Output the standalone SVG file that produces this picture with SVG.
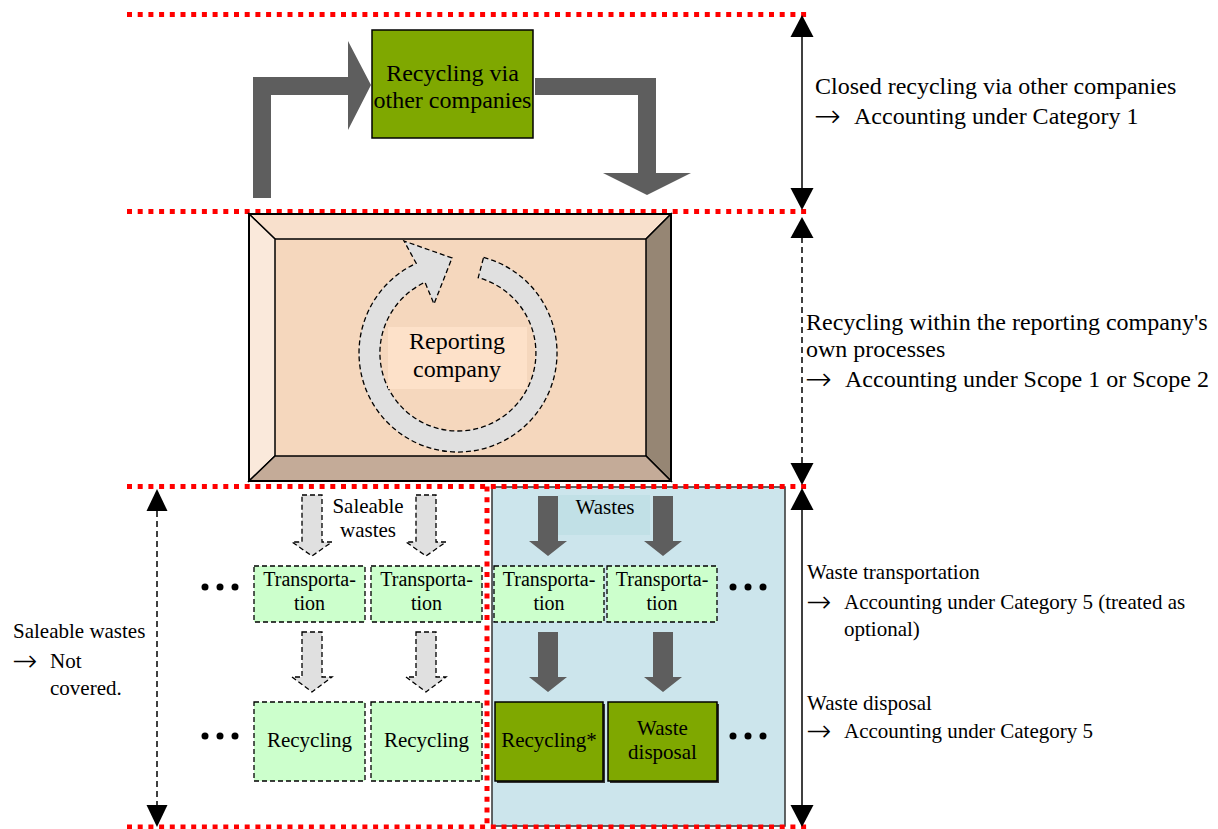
<svg xmlns="http://www.w3.org/2000/svg" width="1218" height="829" viewBox="0 0 1218 829">
  <style>
    text { font-family: "Liberation Serif", "Times New Roman", serif; fill: #000; }
    .t24 { font-size: 24px; }
    .t21 { font-size: 21px; }
    .t20 { font-size: 20px; }
    .mid { text-anchor: middle; }
    .arrowglyph { font-family: "DejaVu Sans", sans-serif; font-weight: 200; }
    .ag24 { font-size: 32px; }
    .ag21 { font-size: 30px; }
    .redline { stroke: #FF0000; stroke-width: 5; stroke-dasharray: 5 5.7; fill: none; }
    .darkarrow { fill: #5E5E5E; stroke: none; }
    .lightarrow { fill: #E0E0E0; stroke: #000; stroke-width: 1.3; stroke-dasharray: 5 3; }
    .lightbox { fill: #CCFFCC; stroke: #000; stroke-width: 1.3; stroke-dasharray: 5 3; }
    .olivebox { fill: #7FA800; stroke: #000; stroke-width: 1.5; }
    .dim { stroke: #000; stroke-width: 1.5; fill: none; }
    .dimdash { stroke: #000; stroke-width: 1.5; fill: none; stroke-dasharray: 6 4; }
    .head { fill: #000; }
    .bevel { stroke: #000; stroke-width: 1.5; }
  </style>

  <rect x="0" y="0" width="1218" height="829" fill="#FFFFFF"/>

  <!-- waste treatment area background -->
  <rect id="waste-area" x="492" y="487" width="293" height="339" fill="#CCE5EC" stroke="#333" stroke-width="1.5"/>

  <!-- section boundaries -->
  <g id="boundaries">
    <line class="redline" x1="127" y1="14.5" x2="810" y2="14.5"/>
    <line class="redline" x1="127" y1="211.5" x2="810" y2="211.5"/>
    <line class="redline" x1="127" y1="486.5" x2="810" y2="486.5"/>
    <line class="redline" x1="127" y1="827" x2="810" y2="827"/>
    <line class="redline" x1="487" y1="486.5" x2="487" y2="829"/>
  </g>

  <!-- connectors -->
  <g id="connectors">
    <!-- loop through other companies -->
    <path class="darkarrow" d="M253,198 L253,77 L348,77 L348,41 L371,85 L348,130 L348,95 L271,95 L271,198 Z"/>
    <path class="darkarrow" d="M535,78 L656,78 L656,173 L691,173 L647,195 L603,173 L638,173 L638,95 L535,95 Z"/>

    <!-- saleable waste flows -->
    <path class="lightarrow" d="M302,495 L322,495 L322,542 L332,542 L312,556 L292,542 L302,542 Z"/>
    <path class="lightarrow" d="M416,495 L436,495 L436,542 L446,542 L426,556 L406,542 L416,542 Z"/>
    <path class="lightarrow" d="M302,632 L322,632 L322,677 L332,677 L312,692 L292,677 L302,677 Z"/>
    <path class="lightarrow" d="M416,632 L436,632 L436,677 L446,677 L426,692 L406,677 L416,677 Z"/>

    <!-- waste flows -->
    <path class="darkarrow" d="M538,496 L558,496 L558,541 L567,541 L548,556 L529,541 L538,541 Z"/>
    <path class="darkarrow" d="M653,496 L673,496 L673,541 L682,541 L663,556 L644,541 L653,541 Z"/>
    <path class="darkarrow" d="M538,632 L558,632 L558,677 L567,677 L548,692 L529,677 L538,677 Z"/>
    <path class="darkarrow" d="M653,632 L673,632 L673,677 L682,677 L663,692 L644,677 L653,677 Z"/>

    <!-- scope dimension arrows -->
    <line class="dim" x1="802" y1="36" x2="802" y2="189"/>
    <polygon class="head" points="802,15 790.5,37 813.5,37"/>
    <polygon class="head" points="802,210 790.5,188 813.5,188"/>

    <line class="dimdash" x1="802" y1="237" x2="802" y2="464"/>
    <polygon class="head" points="802,217 790.5,238 813.5,238"/>
    <polygon class="head" points="802,485 790.5,463 813.5,463"/>

    <line class="dim" x1="802" y1="509" x2="802" y2="806"/>
    <polygon class="head" points="802,488 790.5,510 813.5,510"/>
    <polygon class="head" points="802,827 790.5,805 813.5,805"/>

    <line class="dimdash" x1="157" y1="511" x2="157" y2="806"/>
    <polygon class="head" points="157,489 146.5,511 167.5,511"/>
    <polygon class="head" points="157,827 146.5,805 167.5,805"/>
  </g>

  <!-- other companies -->
  <g id="node-other-companies">
    <rect class="olivebox" x="372" y="30" width="161" height="108"/>
    <text class="t24 mid" x="452.5" y="81">Recycling via</text>
    <text class="t24 mid" x="452.5" y="108">other companies</text>
  </g>

  <!-- reporting company -->
  <g id="node-reporting-company">
    <rect x="275" y="239" width="371" height="217" fill="#F5D7BD"/>
    <polygon class="bevel" points="249,214 671,214 646,239 275,239" fill="#F8E0CC"/>
    <polygon class="bevel" points="249,214 275,239 275,456 249,481" fill="#FAE9DB"/>
    <polygon class="bevel" points="671,214 671,481 646,456 646,239" fill="#968674"/>
    <polygon class="bevel" points="249,481 671,481 646,456 275,456" fill="#C4AB98"/>
    <rect x="249" y="214" width="422" height="267" fill="none" stroke="#000" stroke-width="2"/>
    <path class="lightarrow" d="M483.6,257.4 A99,99 0 1 1 416.2,263.3 L404,241 L452,258 L434,304 L425,282.3 A78,78 0 1 0 478.2,277.7 Z"/>
    <rect x="388" y="327" width="139" height="62" fill="#FDE1C9"/>
    <text class="t24 mid" x="457" y="349">Reporting</text>
    <text class="t24 mid" x="457" y="377">company</text>
  </g>

  <!-- saleable wastes chain -->
  <g id="label-saleable">
    <text class="t21 mid" x="368" y="513">Saleable</text>
    <text class="t21 mid" x="368" y="537">wastes</text>
  </g>
  <g id="node-transport-s1">
    <rect class="lightbox" x="254" y="566" width="111" height="56"/>
    <text class="t20 mid" x="309.5" y="586">Transporta-</text>
    <text class="t20 mid" x="309.5" y="610">tion</text>
  </g>
  <g id="node-transport-s2">
    <rect class="lightbox" x="371" y="566" width="111" height="56"/>
    <text class="t20 mid" x="426.5" y="586">Transporta-</text>
    <text class="t20 mid" x="426.5" y="610">tion</text>
  </g>
  <g id="node-recycling-s1">
    <rect class="lightbox" x="254" y="702" width="111" height="79"/>
    <text class="t21 mid" x="309.5" y="747">Recycling</text>
  </g>
  <g id="node-recycling-s2">
    <rect class="lightbox" x="371" y="702" width="111" height="79"/>
    <text class="t21 mid" x="426.5" y="747">Recycling</text>
  </g>

  <!-- wastes chain -->
  <g id="label-wastes">
    <rect x="558" y="495" width="92" height="40" fill="#C1E0E6"/>
    <text class="t21 mid" x="605" y="514">Wastes</text>
  </g>
  <g id="node-transport-w1">
    <rect class="lightbox" x="494" y="566" width="110" height="56"/>
    <text class="t20 mid" x="549" y="586">Transporta-</text>
    <text class="t20 mid" x="549" y="610">tion</text>
  </g>
  <g id="node-transport-w2">
    <rect class="lightbox" x="607" y="566" width="110" height="56"/>
    <text class="t20 mid" x="662" y="586">Transporta-</text>
    <text class="t20 mid" x="662" y="610">tion</text>
  </g>
  <g id="node-recycling-w">
    <rect x="497" y="704" width="108" height="79" fill="#333"/>
    <rect class="olivebox" x="495" y="702" width="108" height="79"/>
    <text class="t21 mid" x="549" y="747">Recycling*</text>
  </g>
  <g id="node-disposal-w">
    <rect x="610" y="704" width="109" height="79" fill="#333"/>
    <rect class="olivebox" x="608" y="702" width="109" height="79"/>
    <text class="t21 mid" x="662.5" y="735">Waste</text>
    <text class="t21 mid" x="662.5" y="759">disposal</text>
  </g>

  <!-- continuation marks -->
  <g id="ellipses" fill="#000">
    <circle cx="205" cy="587" r="3.5"/><circle cx="220" cy="587" r="3.5"/><circle cx="235" cy="587" r="3.5"/>
    <circle cx="205" cy="736" r="3.5"/><circle cx="220" cy="736" r="3.5"/><circle cx="235" cy="736" r="3.5"/>
    <circle cx="733" cy="587" r="3.5"/><circle cx="748" cy="587" r="3.5"/><circle cx="763" cy="587" r="3.5"/>
    <circle cx="733" cy="736" r="3.5"/><circle cx="748" cy="736" r="3.5"/><circle cx="763" cy="736" r="3.5"/>
  </g>

  <!-- accounting notes -->
  <g id="note-category1">
    <text class="t24" x="815" y="94">Closed recycling via other companies</text>
    <text class="ag24 arrowglyph" x="814" y="127">→</text>
    <text class="t24" x="854" y="124">Accounting under Category 1</text>
  </g>
  <g id="note-scope">
    <text class="t24" x="806" y="330">Recycling within the reporting company's</text>
    <text class="t24" x="806" y="357">own processes</text>
    <text class="ag24 arrowglyph" x="805" y="390">→</text>
    <text class="t24" x="845" y="387">Accounting under Scope 1 or Scope 2</text>
  </g>
  <g id="note-transport">
    <text class="t21" x="807" y="579">Waste transportation</text>
    <text class="ag21 arrowglyph" x="806" y="612">→</text>
    <text class="t21" x="844" y="609">Accounting under Category 5 (treated as</text>
    <text class="t21" x="844" y="636">optional)</text>
  </g>
  <g id="note-disposal">
    <text class="t21" x="807" y="710">Waste disposal</text>
    <text class="ag21 arrowglyph" x="806" y="741">→</text>
    <text class="t21" x="844" y="738">Accounting under Category 5</text>
  </g>
  <g id="note-saleable">
    <text class="t21" x="13" y="638">Saleable wastes</text>
    <text class="ag21 arrowglyph" x="12" y="671">→</text>
    <text class="t21" x="50" y="668">Not</text>
    <text class="t21" x="50" y="695">covered.</text>
  </g>
</svg>
